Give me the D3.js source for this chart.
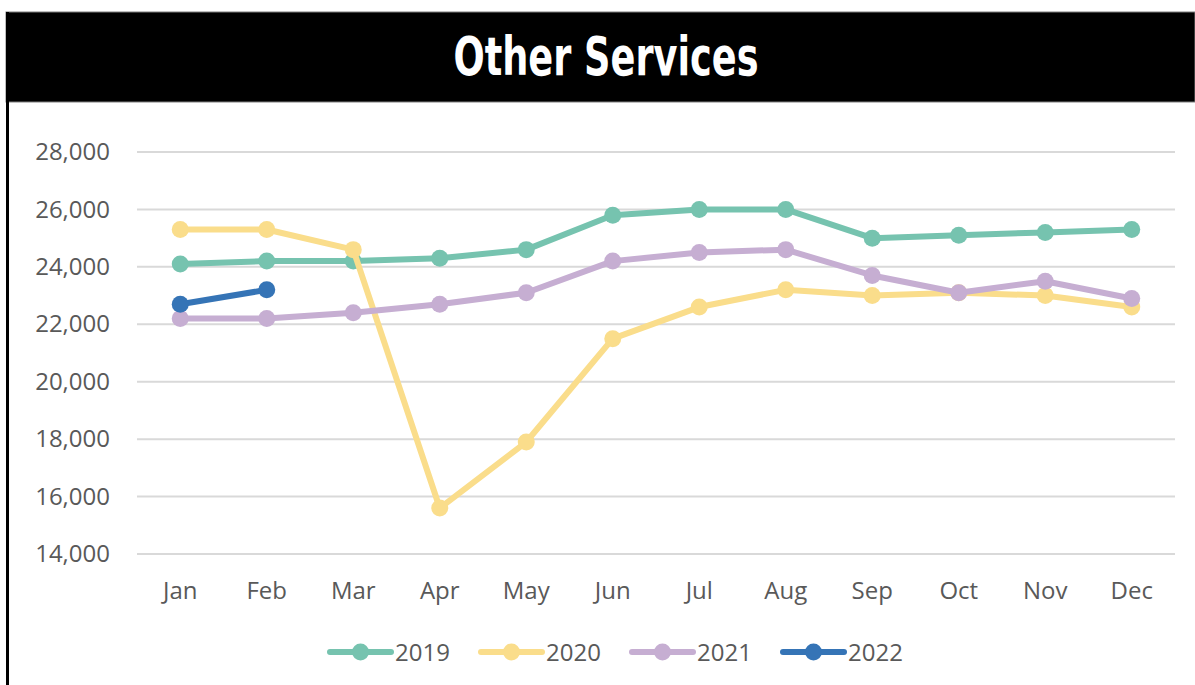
<!DOCTYPE html>
<html>
<head>
<meta charset="utf-8">
<script src="https://cdnjs.cloudflare.com/ajax/libs/d3/7.8.5/d3.min.js"></script>
<style>
  body { margin: 0; background: #fff; }
  svg { display: block; }
</style>
</head>
<body>
<div id="chart"></div>
<script>
// chart data
var months = ["Jan", "Feb", "Mar", "Apr", "May", "Jun", "Jul", "Aug", "Sep", "Oct", "Nov", "Dec"];
var years = ["2019", "2020", "2021", "2022"];
var values2019 = [24100, 24200, 24200, 24300, 24600, 25800, 26000, 26000, 25000, 25100, 25200, 25300];
var values2020 = [25300, 25300, 24600, 15600, 17900, 21500, 22600, 23200, 23000, 23100, 23000, 22600];
var values2021 = [22200, 22200, 22400, 22700, 23100, 24200, 24500, 24600, 23700, 23100, 23500, 22900];
var values2022 = [22700, 23200];
var yTicks = [14000, 16000, 18000, 20000, 22000, 24000, 26000, 28000];
var colors = ["#76c3af", "#fadd8b", "#c6aed2", "#3574b6"];

var series = [values2019, values2020, values2021, values2022];

var svgWidth = 1195;
var svgHeight = 685;

var svg = d3.select("#chart")
  .append("svg")
  .attr("width", svgWidth)
  .attr("height", svgHeight);

// frame and title band
svg.append("rect")
  .attr("x", 6).attr("y", 12)
  .attr("width", svgWidth - 6).attr("height", 90)
  .attr("fill", "#000")
  .attr("stroke", "#7f7f7f")
  .attr("stroke-width", 1);
svg.append("line")
  .attr("x1", 7.5).attr("x2", 7.5)
  .attr("y1", 12).attr("y2", svgHeight)
  .attr("stroke", "#000")
  .attr("stroke-width", 3);

svg.append("text")
  .attr("x", 606)
  .attr("y", 75)
  .attr("text-anchor", "middle")
  .attr("fill", "#fff")
  .style("font-family", "'Liberation Sans Narrow', 'DejaVu Sans Condensed', sans-serif")
  .style("font-weight", "bold")
  .style("font-size", "53px")
  .attr("textLength", 305)
  .attr("lengthAdjust", "spacingAndGlyphs")
  .text("Other Services");

var margin = {top: 152, right: 20, bottom: 131, left: 137};
var width = 1175 - margin.left;
var height = 554 - margin.top;

var g = svg.append("g")
  .attr("transform", "translate(" + margin.left + "," + margin.top + ")");

var x = d3.scaleBand()
  .domain(months)
  .range([0, width]);
var y = d3.scaleLinear()
  .domain([14000, 28000])
  .range([height, 0]);

var font = "'Open Sans', 'Liberation Sans', sans-serif";

// gridlines
g.append("g")
  .selectAll("line")
  .data(yTicks)
  .enter().append("line")
    .attr("x1", 0).attr("x2", width)
    .attr("y1", function(d) { return y(d); })
    .attr("y2", function(d) { return y(d); })
    .attr("stroke", "#d9d9d9")
    .attr("stroke-width", 2);

// y axis
var yAxis = g.append("g")
  .call(d3.axisLeft(y).tickValues(yTicks).tickSize(0).tickPadding(27).tickFormat(d3.format(",")));
yAxis.select(".domain").remove();
yAxis.selectAll("text")
  .attr("fill", "#595959")
  .style("font-family", font)
  .style("font-size", "24px");

// x axis
var xAxis = g.append("g")
  .attr("transform", "translate(0," + height + ")")
  .call(d3.axisBottom(x).tickSize(0).tickPadding(28));
xAxis.select(".domain").remove();
xAxis.selectAll("text")
  .attr("fill", "#595959")
  .style("font-family", font)
  .style("font-size", "24px");

var line = d3.line()
  .x(function(d, i) { return x(months[i]) + x.bandwidth() / 2; })
  .y(function(d) { return y(d); });

series.forEach(function(vals, s) {
  var sg = g.append("g");
  sg.append("path")
    .datum(vals)
    .attr("d", line)
    .attr("fill", "none")
    .attr("stroke", colors[s])
    .attr("stroke-width", 6)
    .attr("stroke-linejoin", "round");
  sg.selectAll("circle")
    .data(vals)
    .enter().append("circle")
      .attr("cx", function(d, i) { return x(months[i]) + x.bandwidth() / 2; })
      .attr("cy", function(d) { return y(d); })
      .attr("r", 8.5)
      .attr("fill", colors[s]);
});

// legend
var legend = svg.append("g")
  .attr("transform", "translate(328,652)");
years.forEach(function(yr, i) {
  var lg = legend.append("g")
    .attr("transform", "translate(" + (i * 151) + ",0)");
  lg.append("line")
    .attr("x1", 2).attr("x2", 63)
    .attr("y1", 0).attr("y2", 0)
    .attr("stroke", colors[i])
    .attr("stroke-width", 6)
    .attr("stroke-linecap", "round");
  lg.append("circle")
    .attr("cx", 32.5).attr("cy", 0)
    .attr("r", 8.5)
    .attr("fill", colors[i]);
  lg.append("text")
    .attr("x", 67)
    .attr("y", 8.5)
    .attr("fill", "#595959")
    .style("font-family", font)
    .style("font-size", "24px")
    .text(yr);
});
</script>
</body>
</html>
